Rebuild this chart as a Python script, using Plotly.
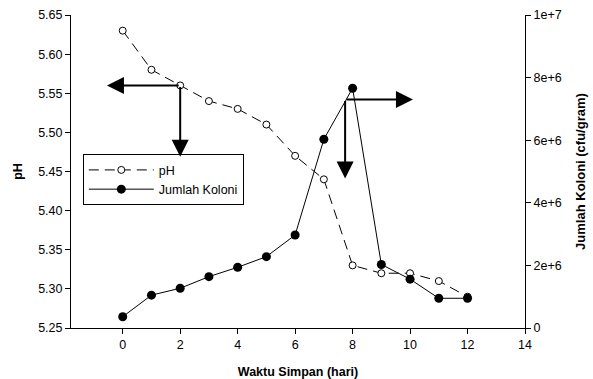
import plotly.graph_objects as go

# Storage time (days)
days = [0, 1, 2, 3, 4, 5, 6, 7, 8, 9, 10, 11, 12]
# pH during storage
ph = [5.63, 5.58, 5.56, 5.54, 5.53, 5.51, 5.47, 5.44, 5.33, 5.32, 5.32, 5.31, 5.29]
# Colony count (cfu/gram)
koloni = [3.6e5, 1.05e6, 1.27e6, 1.64e6, 1.94e6, 2.28e6, 2.97e6,
          6.03e6, 7.66e6, 2.03e6, 1.56e6, 0.95e6, 0.95e6]

x_ticks = [0, 2, 4, 6, 8, 10, 12, 14]
ph_ticks = [5.25, 5.30, 5.35, 5.40, 5.45, 5.50, 5.55, 5.60, 5.65]
kol_ticks = [0, 2e6, 4e6, 6e6, 8e6, 1e7]
kol_labels = ["0", "2e+6", "4e+6", "6e+6", "8e+6", "1e+7"]

# Guide arrows: (corner x, corner pH, horizontal tip x, vertical tip pH)
arrow_ph = (2.0, 5.56, -0.55, 5.469)
arrow_kol = (7.74, 5.542, 10.1, 5.441)

FONT = "Liberation Sans, Arial, sans-serif"

fig = go.Figure()
fig.add_trace(go.Scatter(
    x=days, y=ph, name="pH", mode="lines+markers",
    line=dict(color="black", width=1, dash="10px,6px"),
    marker=dict(symbol="circle", size=7, color="white",
                line=dict(color="black", width=1)),
))
fig.add_trace(go.Scatter(
    x=days, y=koloni, name="Jumlah Koloni", mode="lines+markers", yaxis="y2",
    line=dict(color="black", width=1),
    marker=dict(symbol="circle", size=9, color="black"),
))

annotations = []
for cx, cy, hx, vy in (arrow_ph, arrow_kol):
    for tx, ty in ((hx, cy), (cx, vy)):
        annotations.append(dict(
            x=tx, y=ty, ax=cx, ay=cy, xref="x", yref="y", axref="x", ayref="y",
            text="", showarrow=True, arrowhead=2, arrowsize=1.7,
            arrowwidth=2, arrowcolor="black", standoff=0, startstandoff=0,
        ))

axis_common = dict(
    showline=True, linecolor="black", linewidth=1, ticks="outside",
    ticklen=5, tickcolor="black", tickwidth=1, showgrid=False, zeroline=False,
    automargin=False,
    tickfont=dict(family=FONT, size=12.5, color="black"),
)

fig.update_layout(
    width=593, height=379,
    margin=dict(l=71, r=68, t=15, b=51, autoexpand=False),
    paper_bgcolor="white", plot_bgcolor="white",
    font=dict(family=FONT, size=12.5, color="black"),
    xaxis=dict(range=[-1.8, 14], tickvals=x_ticks,
               title=dict(text="<b>Waktu Simpan (hari)</b>", standoff=18,
                          font=dict(family=FONT, size=12.5)),
               **axis_common),
    yaxis=dict(range=[5.25, 5.65], tickvals=ph_ticks, tickformat=".2f",
               title=dict(text="<b>pH</b>", standoff=12,
                          font=dict(family=FONT, size=12.5)),
               **axis_common),
    yaxis2=dict(range=[0, 1e7], overlaying="y", side="right",
                tickvals=kol_ticks, ticktext=kol_labels,
                title=dict(text="<b>Jumlah Koloni (cfu/gram)</b>", standoff=15,
                           font=dict(family=FONT, size=13)),
                **axis_common),
    legend=dict(x=0.026, y=0.555, xanchor="left", yanchor="top",
                bordercolor="black", borderwidth=1, bgcolor="white",
                font=dict(family=FONT, size=12.5, color="black"),
                itemwidth=65, tracegroupgap=0),
    annotations=annotations,
    showlegend=True,
)

fig.write_html("out.html")
